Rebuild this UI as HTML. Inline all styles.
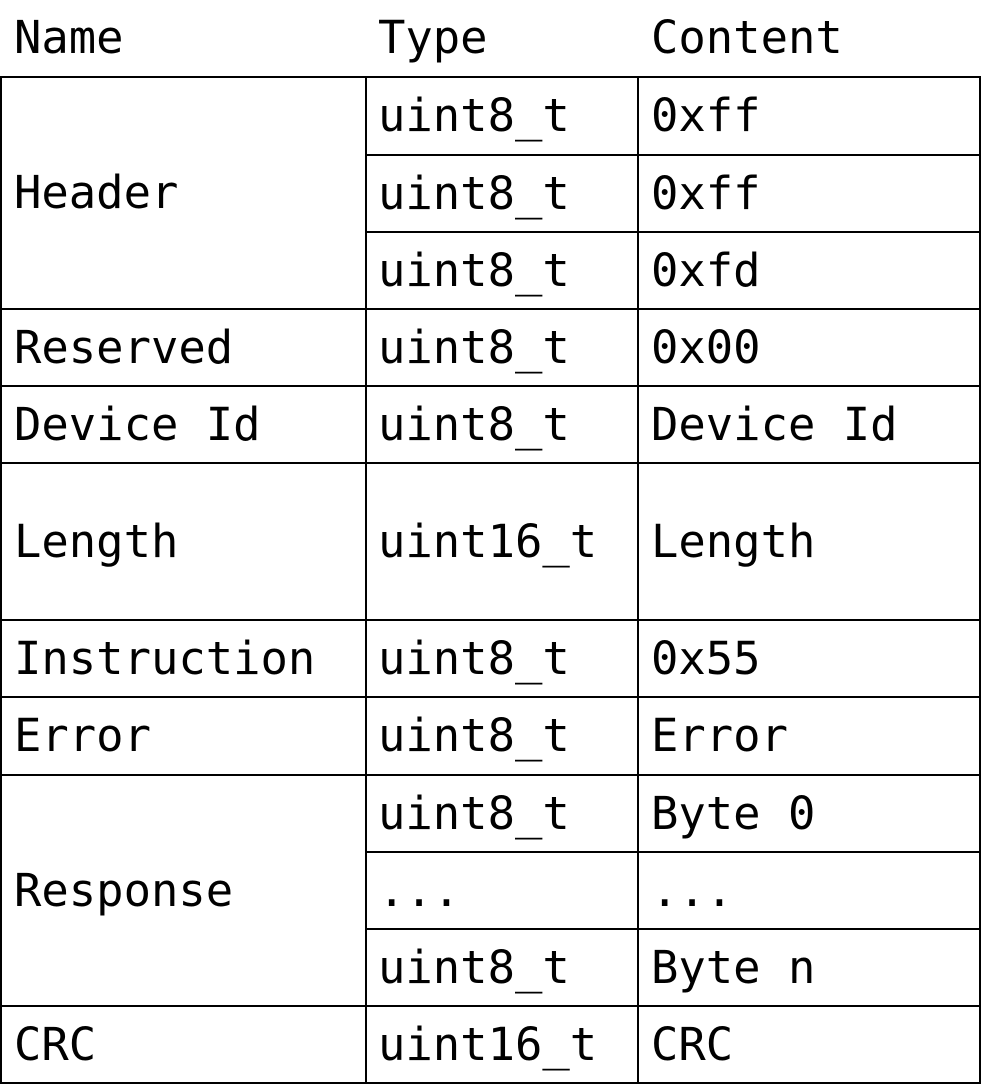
<!DOCTYPE html>
<html><head><meta charset="utf-8"><style>
html,body{margin:0;padding:0;background:#fff;}
svg text{font-family:"DejaVu Sans Mono","Liberation Mono",monospace;font-size:45.5px;fill:#000;}
</style></head><body>
<svg width="982" height="1086" xmlns="http://www.w3.org/2000/svg">
<g stroke="#000" stroke-width="2" fill="none">
<rect x="1" y="77" width="979" height="1006"/>
<line x1="366" y1="77" x2="366" y2="1083"/>
<line x1="638" y1="77" x2="638" y2="1083"/>
<line x1="366" y1="155" x2="980" y2="155"/>
<line x1="366" y1="232" x2="980" y2="232"/>
<line x1="1" y1="309" x2="980" y2="309"/>
<line x1="1" y1="386" x2="980" y2="386"/>
<line x1="1" y1="463" x2="980" y2="463"/>
<line x1="1" y1="620" x2="980" y2="620"/>
<line x1="1" y1="697" x2="980" y2="697"/>
<line x1="1" y1="775" x2="980" y2="775"/>
<line x1="366" y1="852" x2="980" y2="852"/>
<line x1="366" y1="929" x2="980" y2="929"/>
<line x1="1" y1="1006" x2="980" y2="1006"/>
</g>
<text x="14" y="53">Name</text><text x="378" y="53">Type</text><text x="651" y="53">Content</text>
<text x="14" y="208">Header</text>
<text x="378" y="131">uint8_t</text><text x="651" y="131">0xff</text>
<text x="378" y="209">uint8_t</text><text x="651" y="209">0xff</text>
<text x="378" y="286">uint8_t</text><text x="651" y="286">0xfd</text>
<text x="14" y="363">Reserved</text><text x="378" y="363">uint8_t</text><text x="651" y="363">0x00</text>
<text x="14" y="440">Device Id</text><text x="378" y="440">uint8_t</text><text x="651" y="440">Device Id</text>
<text x="14" y="557">Length</text><text x="378" y="557">uint16_t</text><text x="651" y="557">Length</text>
<text x="14" y="674">Instruction</text><text x="378" y="674">uint8_t</text><text x="651" y="674">0x55</text>
<text x="14" y="751">Error</text><text x="378" y="751">uint8_t</text><text x="651" y="751">Error</text>
<text x="14" y="906">Response</text>
<text x="378" y="829">uint8_t</text><text x="651" y="829">Byte 0</text>
<text x="378" y="906">...</text><text x="651" y="906">...</text>
<text x="378" y="983">uint8_t</text><text x="651" y="983">Byte n</text>
<text x="14" y="1060">CRC</text><text x="378" y="1060">uint16_t</text><text x="651" y="1060">CRC</text>
</svg>
</body></html>
